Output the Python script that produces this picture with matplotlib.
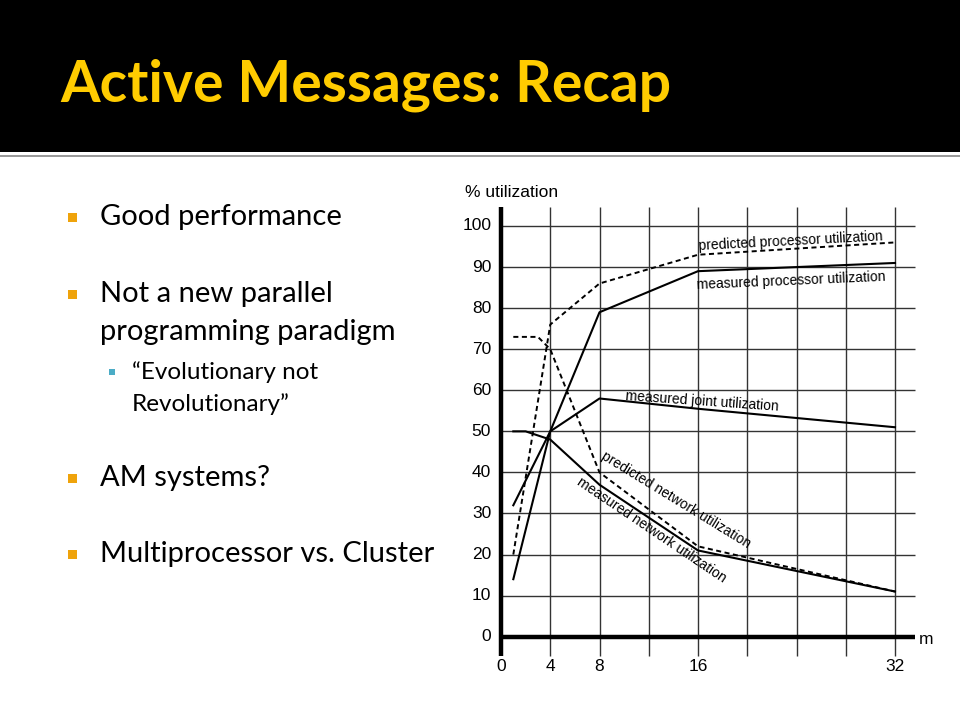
#!/usr/bin/env python3
"""
Slide: Active Messages recap, with the processor / network utilization chart.
"""

import matplotlib
matplotlib.use("Agg")
import matplotlib.pyplot as plt
from matplotlib.patches import Rectangle

# --- data ---
m_proc = [1, 4, 8, 16, 32]
pred_proc = [20, 76, 86, 93, 96]
meas_proc = [14, 50, 79, 89, 91]

m_joint = [1, 4, 8, 16, 32]
meas_joint = [32, 50, 58, 55.5, 51]

m_pred_net = [1, 3, 4, 8, 16, 32]
pred_net = [73, 73, 70, 40, 22, 11]

m_meas_net = [1, 2, 4, 8, 16, 32]
meas_net = [50, 50, 48, 37, 21, 11]

x_ticks = [0, 4, 8, 16, 32]
x_grid = [4, 8, 12, 16, 20, 24, 28, 32]
y_ticks = list(range(0, 101, 10))

# (text, y pixel, has bullet)
bullets = [
    ("Good performance", 217, True),
    ("Not a new parallel", 294, True),
    ("programming paradigm", 332, False),
    ("AM systems?", 478, True),
    ("Multiprocessor vs. Cluster", 554, True),
]
sub_bullets = [("\u201cEvolutionary not", 372, True), ("Revolutionary\u201d", 404, False)]

W, H = 960, 720
ORANGE = "#EFA30B"
BLUE = "#4BACC6"
GOLD = "#FFCC00"
LABEL_FONT = ["Liberation Sans", "DejaVu Sans"]
BODY_FONT = ["Lato", "DejaVu Sans"]


def fx(px):
    return px / W


def fy(py):
    return 1 - py / H


fig = plt.figure(figsize=(9.6, 7.2), dpi=100)
fig.patch.set_facecolor("white")

# header band + rule
fig.add_artist(Rectangle((0, fy(152)), 1, 152 / H, transform=fig.transFigure,
                         facecolor="black", edgecolor="none"))
fig.add_artist(Rectangle((0, fy(157)), 1, 2.5 / H, transform=fig.transFigure,
                         facecolor="#9a9a9a", edgecolor="none"))
fig.text(fx(60), fy(102), "Active Messages: Recap", va="baseline", ha="left",
         fontsize=41, fontweight="bold", color=GOLD,
         family=["Lato", "DejaVu Sans"])

# bullet list
for txt, yy, mark in bullets:
    if mark:
        fig.add_artist(Rectangle((fx(68), fy(yy + 4.5)), 9 / W, 9 / H,
                                 transform=fig.transFigure, facecolor=ORANGE, edgecolor="none"))
    fig.text(fx(100), fy(yy), txt, va="center", ha="left", fontsize=21,
             color="black", family=BODY_FONT)
for txt, yy, mark in sub_bullets:
    if mark:
        fig.add_artist(Rectangle((fx(109), fy(yy + 2.8)), 5.5 / W, 5.5 / H,
                                 transform=fig.transFigure, facecolor=BLUE, edgecolor="none"))
    fig.text(fx(132), fy(yy), txt, va="center", ha="left", fontsize=17.5,
             color="black", family=BODY_FONT)

# --- chart axes: x 0 -> 501px, 32 -> 895px ; y 0 -> 636.7px, 100 -> 226px ---
xpp = (895 - 501) / 32.0
ypp = (636.7 - 226) / 100.0
xlo, xhi = -4, 36
ylo, yhi = -8, 110
left = 501 + xlo * xpp
bottom = 636.7 - ylo * ypp
ax = fig.add_axes([fx(left), fy(bottom), (xhi - xlo) * xpp / W, (yhi - ylo) * ypp / H])
ax.set_xlim(xlo, xhi)
ax.set_ylim(ylo, yhi)
ax.patch.set_alpha(0)
for s in ax.spines.values():
    s.set_visible(False)
ax.set_xticks([])
ax.set_yticks([])

grid_col = "#333333"
ax.hlines(y_ticks[1:], 0, 33.6, color=grid_col, linewidth=1.0, zorder=1)
ax.vlines(x_grid, -4.7, 104.7, color=grid_col, linewidth=1.0, zorder=1)
ax.plot([0, 0], [-4.7, 104.7], color="black", linewidth=3.2, solid_capstyle="butt", zorder=3)
ax.plot([0, 33.6], [0, 0], color="black", linewidth=3.2, solid_capstyle="butt", zorder=3)

for v in y_ticks:
    ax.text(-0.8, v, str(v), ha="right", va="center", fontsize=12.5, family=LABEL_FONT)
for v in x_ticks:
    ax.text(v, -7.3, str(v), ha="center", va="center", fontsize=12.5, family=LABEL_FONT)
ax.text(33.9, -0.6, "m", ha="left", va="center", fontsize=12.5, family=LABEL_FONT)
ax.text(-2.9, 108.2, "% utilization", ha="left", va="center", fontsize=12.5,
        family=LABEL_FONT, clip_on=False)

# curves
dash = (0, (2.6, 1.8))
ax.plot(m_proc, pred_proc, color="black", linewidth=1.4, linestyle=dash, zorder=4)
ax.plot(m_proc, meas_proc, color="black", linewidth=1.5, zorder=4)
ax.plot(m_joint, meas_joint, color="black", linewidth=1.5, zorder=4)
ax.plot(m_pred_net, pred_net, color="black", linewidth=1.4, linestyle=dash, zorder=4)
ax.plot(m_meas_net, meas_net, color="black", linewidth=1.5, zorder=4)

# curve labels
lab = dict(fontsize=10, family=LABEL_FONT, ha="center", va="center",
           rotation_mode="anchor", zorder=5)
ax.text(23.5, 96.4, "predicted processor utilization", rotation=3, **lab)
ax.text(23.6, 86.6, "measured processor utilization", rotation=2.5, **lab)
ax.text(16.3, 57.4, "measured joint utilization", rotation=-4, **lab)
ax.text(14.2, 33.3, "predicted network utilization", rotation=-31.5, **lab)
ax.text(12.2, 26.0, "measured network utilization", rotation=-34, **lab)

fig.savefig("out.png", dpi=100, facecolor=fig.get_facecolor())
